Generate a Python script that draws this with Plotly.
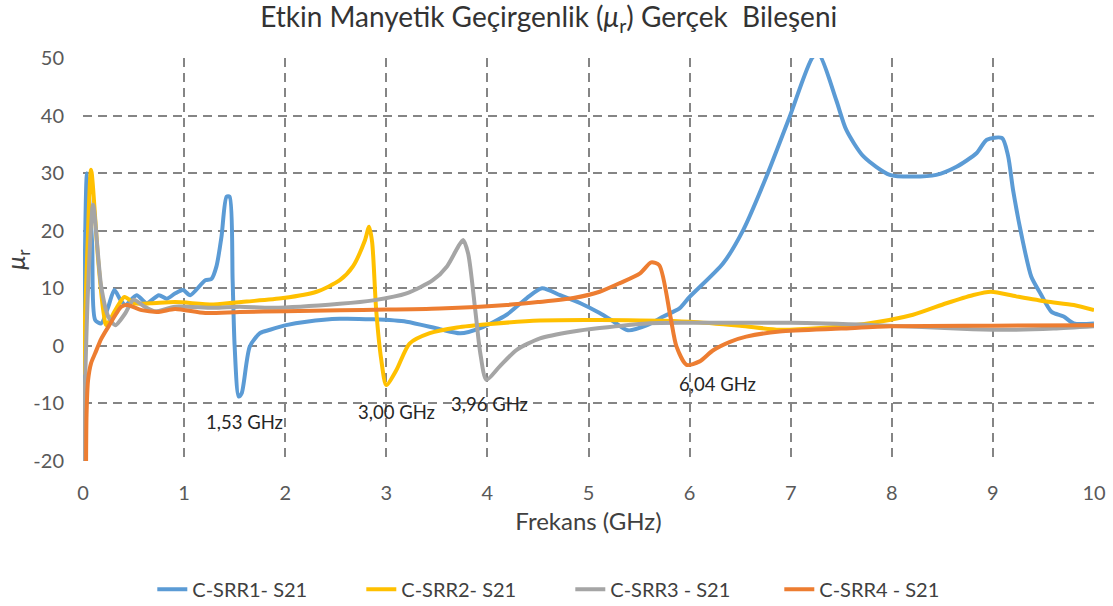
import plotly.graph_objects as go

# ---- data ----
srr1_f = [0.0, 0.04, 0.09, 0.12, 0.18, 0.25, 0.31, 0.37, 0.42, 0.53, 0.63, 0.75, 0.83, 0.91, 0.99, 1.06,
          1.21, 1.27, 1.32, 1.37, 1.42, 1.45, 1.48, 1.50, 1.54, 1.57, 1.65, 1.75, 1.85, 2.01, 2.21, 2.54,
          2.87, 3.2, 3.53, 3.73, 3.93, 4.19, 4.39, 4.54, 4.72, 4.92, 5.11, 5.25, 5.39, 5.58, 5.74, 5.9, 6.0,
          6.33, 6.53, 6.76, 6.99, 7.22, 7.28, 7.45, 7.55, 7.72, 7.98, 8.21, 8.44, 8.64, 8.84, 8.94, 9.09,
          9.15, 9.2, 9.3, 9.38, 9.47, 9.58, 9.7, 9.8, 10.0]
srr1_v = [-22, 30, 17.9, 4.5, 3.9, 6.8, 9.7, 8.0, 7.1, 8.8, 7.4, 8.8, 8.2, 9.1, 9.7, 8.8,
          11.4, 11.6, 13.8, 19.0, 25.9, 25.9, 11.4, -0.1, -8.8, -8.2, -0.1, 2.2, 2.8, 3.6, 4.2, 4.7,
          4.6, 4.2, 2.9, 2.2, 3.1, 5.4, 8.3, 10.0, 8.8, 7.4, 5.7, 4.2, 2.7, 3.6, 5.1, 6.5, 8.5,
          14.3, 20.1, 29.4, 39.8, 50.2, 50.6, 42.7, 37.5, 32.9, 29.7, 29.4, 29.7, 31.1, 33.5, 35.8, 36.1,
          33.0, 27.0, 17.8, 12.0, 9.1, 5.9, 5.1, 3.9, 3.9]

srr2_f = [0.0, 0.04, 0.08, 0.15, 0.20, 0.23, 0.32, 0.41, 0.51, 0.67, 0.91, 1.29, 1.62, 1.98, 2.31, 2.54,
          2.67, 2.79, 2.83, 2.86, 2.90, 2.95, 3.0, 3.1, 3.23, 3.43, 3.70, 4.03, 4.52, 5.11, 6.0, 6.5,
          6.89, 7.3, 7.73, 8.21, 8.54, 8.80, 8.98, 9.23, 9.53, 9.80, 10.0]
srr2_v = [-5, 15, 30.6, 14.9, 6.2, 3.6, 6.2, 8.5, 7.4, 7.4, 7.6, 7.2, 7.7, 8.3, 9.4, 11.4,
          13.8, 18.4, 20.7, 18.0, 6.2, -2.4, -6.8, -4.2, 0.4, 2.2, 3.2, 3.8, 4.4, 4.5, 4.2, 3.5,
          2.8, 3.1, 3.8, 5.4, 7.4, 8.8, 9.4, 8.6, 7.7, 7.1, 6.2]

srr3_f = [0.0, 0.05, 0.10, 0.18, 0.25, 0.32, 0.42, 0.50, 0.61, 0.71, 0.91, 1.29, 1.55, 1.88, 2.54, 2.87,
          3.2, 3.46, 3.6, 3.71, 3.76, 3.81, 3.88, 3.93, 3.99, 4.12, 4.29, 4.52, 4.85, 5.11, 5.58, 6.0,
          7.0, 7.83, 8.8, 9.2, 9.6, 10.0]
srr3_v = [-20, 10, 24.5, 10.3, 5.1, 3.6, 5.7, 8.0, 6.8, 6.0, 6.8, 6.6, 6.8, 6.6, 7.3, 7.9,
          9.1, 11.4, 13.8, 17.2, 18.4, 16.0, 6.2, -1.3, -5.9, -3.6, -0.7, 1.3, 2.5, 3.1, 3.9, 4.0,
          4.0, 3.6, 2.9, 2.8, 3.0, 3.4]

srr4_f = [0.03, 0.035, 0.05, 0.08, 0.12, 0.18, 0.25, 0.38, 0.44, 0.58, 0.75, 0.91, 1.21, 1.55, 2.0, 2.54,
          3.0, 3.53, 4.19, 4.5, 4.85, 5.11, 5.31, 5.51, 5.62, 5.70, 5.81, 5.87, 5.97, 6.1, 6.23, 6.4,
          6.56, 6.89, 7.5, 8.0, 9.0, 10.0]
srr4_v = [-22, -12, -6.0, -3.0, -1.3, 1.2, 3.3, 6.8, 7.1, 6.2, 5.9, 6.4, 5.7, 5.9, 6.0, 6.2,
          6.3, 6.5, 7.1, 7.6, 8.3, 9.4, 10.9, 12.6, 14.5, 14.0, 5.1, -0.1, -3.3, -2.7, -0.8, 0.7,
          1.6, 2.5, 3.0, 3.4, 3.5, 3.6]

series_names = ["C-SRR1- S21", "C-SRR2- S21", "C-SRR3 - S21", "C-SRR4 - S21"]
series_colors = ["#5B9BD5", "#FFC000", "#A5A5A5", "#ED7D31"]

x_ticks = [0, 1, 2, 3, 4, 5, 6, 7, 8, 9, 10]
x_ticktext = ["0", "1", "2", "3", "4", "5", "6", "7", "8", "9", "10"]
y_ticks = [-20, -10, 0, 10, 20, 30, 40, 50]
y_ticktext = ["-20", "-10", "0", "10", "20", "30", "40", "50"]

ann_text = ["1,53 GHz", "3,00 GHz", "3,96 GHz", "6,04 GHz"]
ann_x = [1.60, 3.10, 4.02, 6.28]
ann_y = [-13.2, -11.5, -10.1, -6.6]

FONT = "Lato"

fig = go.Figure()
for f, v, n, c in zip([srr1_f, srr2_f, srr3_f, srr4_f], [srr1_v, srr2_v, srr3_v, srr4_v],
                      series_names, series_colors):
    fig.add_trace(go.Scatter(x=f, y=v, name=n, mode="lines",
                             line=dict(color=c, width=4, shape="spline", smoothing=0.7)))

for t, ax, ay in zip(ann_text, ann_x, ann_y):
    fig.add_annotation(x=ax, y=ay, text=t, showarrow=False,
                       font=dict(family=FONT, size=18.5, color="#262626"))

grid = dict(showgrid=True, gridcolor="#858585", gridwidth=1.5, griddash="9px,6px",
            zeroline=False, showline=False, ticks="outside", tickcolor="rgba(0,0,0,0)")

fig.update_layout(
    width=1113, height=606,
    paper_bgcolor="white", plot_bgcolor="white",
    margin=dict(l=83, r=19, t=58, b=145, autoexpand=False),
    title=dict(text="Etkin Manyetik Geçirgenlik (<i>μ</i><sub>r</sub>) Gerçek  Bileşeni",
               x=0.493, xref="container", y=0.972, yanchor="middle",
               font=dict(family=FONT, size=28, color="#333333")),
    xaxis=dict(range=[0, 10], tickvals=x_ticks, ticktext=x_ticktext, ticklen=14, **grid,
               tickfont=dict(family=FONT, size=20, color="#595959"),
               title=dict(text="Frekans (GHz)", standoff=10,
                          font=dict(family=FONT, size=24, color="#404040"))),
    yaxis=dict(range=[-20, 50], tickvals=y_ticks, ticktext=y_ticktext, ticklen=14, **grid,
               tickfont=dict(family=FONT, size=20, color="#595959"),
               title=dict(text="<i>μ</i><sub>r</sub>", standoff=8,
                          font=dict(family=FONT, size=25, color="#404040"))),
    legend=dict(orientation="h", x=0.482, xanchor="center", xref="paper", y=-0.318, yanchor="middle",
                font=dict(family=FONT, size=20, color="#404040"),
                entrywidth=164, traceorder="normal"),
    showlegend=True,
)

fig.write_html("out.html", config={"displayModeBar": False},
               post_script="document.body.style.margin='0';")
